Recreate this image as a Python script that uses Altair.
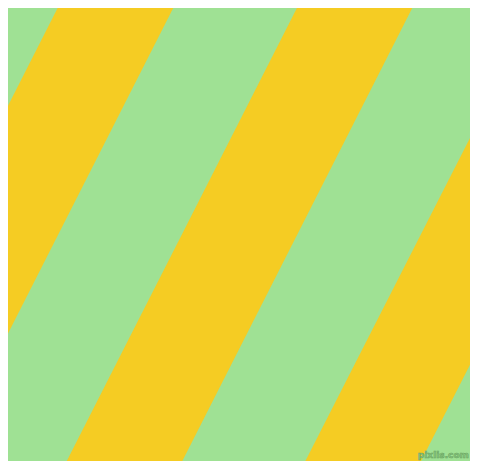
import altair as alt
import pandas as pd

# Stripe edges (reference pixel coordinates), read at the top (y=0) and bottom (y=469) edges
stripe_id = ["A", "A", "B", "B", "C", "C"]
edge_y = [0, 469, 0, 469, 0, 469]
left_x = [61.7, -176.3, 301.0, 62.7, 540.3, 301.3]
right_x = [177.3, -60.7, 416.3, 178.3, 655.6, 417.0]

GREEN = "#9fe194"
YELLOW = "#f5cc23"

stripes = pd.DataFrame({"stripe": stripe_id, "ypos": edge_y, "xl": left_x, "xr": right_x})

# the page puts the chart at an 8px margin; show the matching region of the reference
x_dom = [8, 470]
y_dom = [8, 461]
W = x_dom[1] - x_dom[0]
H = y_dom[1] - y_dom[0]

xs = alt.Scale(domain=x_dom, nice=False, zero=False)
ys = alt.Scale(domain=y_dom, nice=False, zero=False, reverse=True)

area = alt.Chart(stripes).mark_area(orient="horizontal", clip=True, color=YELLOW, opacity=1).encode(
    y=alt.Y("ypos:Q", scale=ys, axis=None),
    x=alt.X("xl:Q", scale=xs, axis=None, stack=None),
    x2="xr:Q",
    detail="stripe:N",
)

wm = pd.DataFrame({"wx": [469], "wy": [460], "t": ["pixlis.com"]})
text = alt.Chart(wm).mark_text(
    align="right", baseline="bottom", fontSize=9, fontWeight="bold",
    font="DejaVu Sans", color="#8ccc82", stroke="#6aa462", strokeWidth=0.6,
).encode(
    x=alt.X("wx:Q", scale=xs, axis=None),
    y=alt.Y("wy:Q", scale=ys, axis=None),
    text="t:N",
)

chart = (area + text).properties(
    width=W, height=H, background=GREEN, padding=0,
    autosize=alt.AutoSizeParams(type="none"),
).configure_view(stroke=None, fill=GREEN)

chart.save("out.html", embed_options={"renderer": "svg", "actions": False})
